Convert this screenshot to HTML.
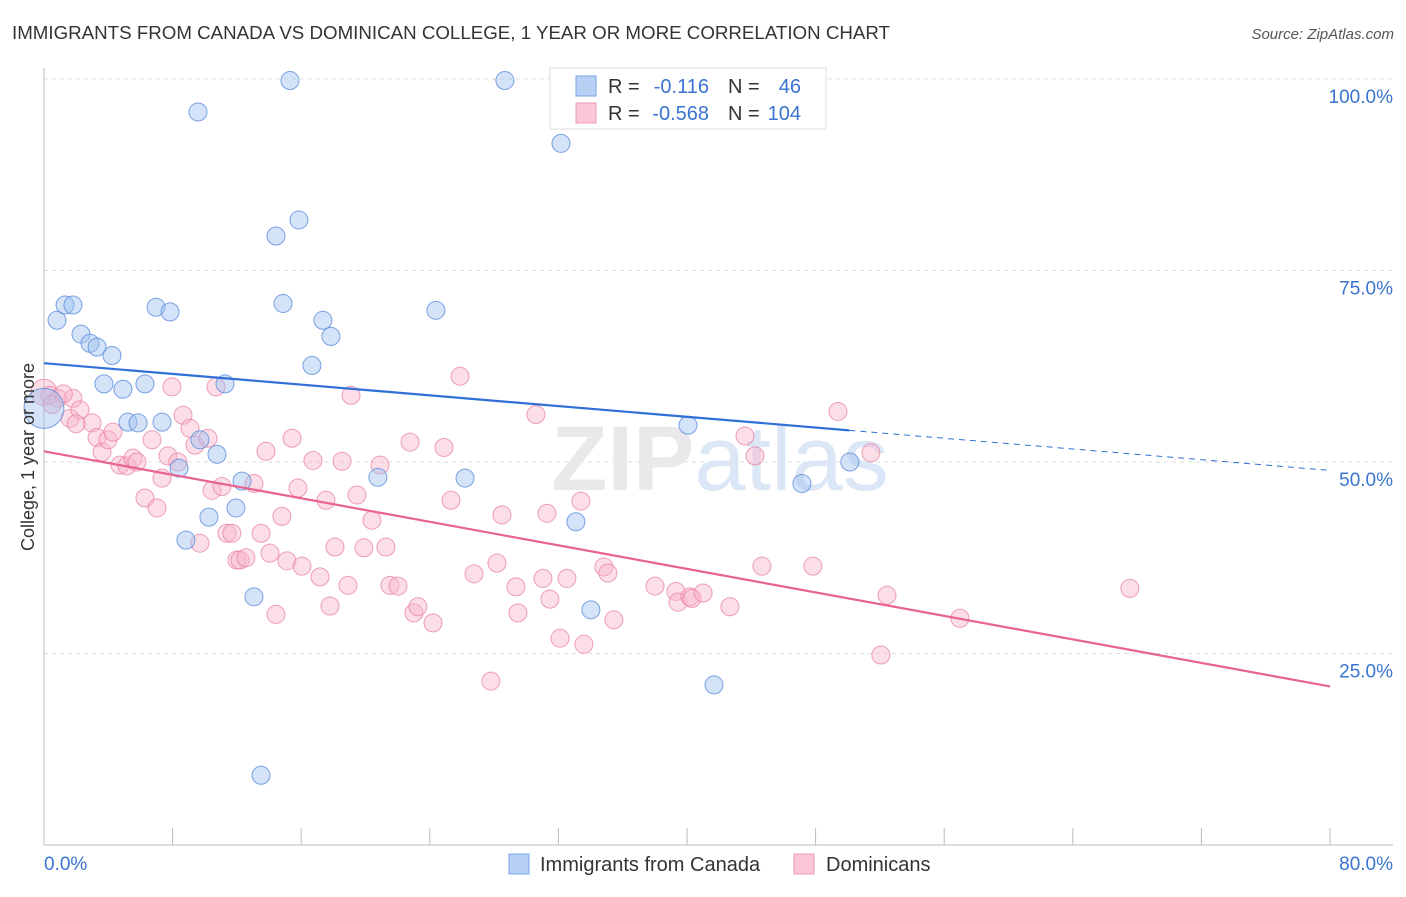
<!DOCTYPE html>
<html><head><meta charset="utf-8"><style>
body{margin:0;background:#fff;font-family:"Liberation Sans",sans-serif;}
svg text{font-family:"Liberation Sans",sans-serif;}
</style></head><body>
<svg id="chart" width="1406" height="892" viewBox="0 0 1406 892" xmlns="http://www.w3.org/2000/svg">
<text x="12" y="39" font-size="18" fill="#333" textLength="878" lengthAdjust="spacingAndGlyphs">IMMIGRANTS FROM CANADA VS DOMINICAN COLLEGE, 1 YEAR OR MORE CORRELATION CHART</text>
<text x="1394" y="39" font-size="15" fill="#555" text-anchor="end" font-style="italic">Source: ZipAtlas.com</text>
<g id="grid"></g>
<text x="720" y="490" font-size="92" text-anchor="middle" fill="#e9e9ec" font-family="Liberation Serif,serif" font-weight="bold">ZIP<tspan fill="#dbe6f6" font-family="Liberation Sans,sans-serif" font-weight="normal">atlas</tspan></text>
<g id="axes"></g>
<g id="pts"></g>
<g id="lines"></g>
<text transform="translate(34,457) rotate(-90)" font-size="18" fill="#333" text-anchor="middle">College, 1 year or more</text>
<g>
<rect x="550" y="68" width="276" height="61" fill="#fff" stroke="#ddd"/>
<rect x="576" y="76" width="20" height="20" fill="#b7d0f4" stroke="#7aa6e4"/>
<rect x="576" y="103" width="20" height="20" fill="#fbc7d6" stroke="#ee9ab5"/>
<text x="608" y="93" font-size="20" fill="#333">R = </text><text x="709" y="93" font-size="20" fill="#3a74d0" text-anchor="end">-0.116</text>
<text x="728" y="93" font-size="20" fill="#333">N = </text><text x="801" y="93" font-size="20" fill="#3a74d0" text-anchor="end">46</text>
<text x="608" y="120" font-size="20" fill="#333">R = </text><text x="709" y="120" font-size="20" fill="#3a74d0" text-anchor="end">-0.568</text>
<text x="728" y="120" font-size="20" fill="#333">N = </text><text x="801" y="120" font-size="20" fill="#3a74d0" text-anchor="end">104</text>
</g>
<g>
<rect x="509" y="854" width="20" height="20" fill="#b7d0f4" stroke="#7aa6e4"/>
<text x="540" y="871" font-size="20" fill="#333">Immigrants from Canada</text>
<rect x="794" y="854" width="20" height="20" fill="#fbc7d6" stroke="#ee9ab5"/>
<text x="826" y="871" font-size="20" fill="#333">Dominicans</text>
</g>
</svg>
<script>
const yTicks=[25,50,75,100];
const yTickLabels=["25.0%","50.0%","75.0%","100.0%"];
const xTickLabels=["0.0%","80.0%"];
const blueX=[0,0.81,1.31,1.80,2.30,2.86,3.30,4.23,3.73,4.91,6.28,5.22,5.85,7.34,6.97,7.84,9.58,15.30,28.67,32.16,14.43,15.86,14.87,17.35,17.85,16.67,24.38,11.26,9.70,10.76,8.40,12.32,20.77,26.19,10.26,11.94,8.83,33.09,13.06,34.02,41.68,13.50,40.06,50.13,47.15,33.6];
const blueY=[57.0,68.5,70.5,70.5,66.7,65.5,65.0,63.9,60.2,59.5,60.2,55.2,55.1,55.2,70.2,69.6,95.7,99.8,99.8,91.6,79.5,81.6,70.7,68.5,66.4,62.6,69.8,60.2,52.9,51.0,49.2,47.5,48.0,47.9,42.8,44.0,39.8,42.2,32.4,30.7,20.9,9.1,54.8,50.0,47.2,100];
const pinkX=[0,0.37,0.87,1.80,1.62,2.24,2.99,3.30,3.61,3.98,4.29,4.73,5.16,5.54,5.78,6.28,6.72,7.03,7.34,7.71,7.96,8.65,8.33,9.08,9.39,9.70,10.20,10.45,10.70,11.07,11.38,11.69,12.00,12.19,12.56,13.06,13.50,13.81,14.06,14.43,14.80,15.11,15.43,15.80,16.05,16.73,17.17,17.54,17.79,18.10,18.54,18.91,19.10,19.47,19.90,20.40,20.90,21.27,21.52,22.02,22.77,23.01,23.26,24.20,24.88,25.32,25.88,26.75,27.80,28.18,28.49,29.36,29.48,30.60,31.04,31.29,31.47,32.10,32.53,33.40,33.59,34.83,35.08,35.45,38.01,39.31,39.44,40.18,40.31,41.00,42.67,43.61,44.23,44.66,47.83,49.39,51.44,52.06,52.44,56.98,67.55,0.5,1.2,2.0];
const pinkY=[59.1,58.7,58.3,58.3,55.7,56.8,55.1,53.2,51.3,52.9,53.9,49.6,49.5,50.5,50.0,45.3,52.9,44.0,47.9,50.8,59.8,56.1,50.0,54.4,52.2,39.4,53.1,46.3,59.8,46.8,40.7,40.7,37.2,37.2,37.5,47.2,40.7,51.4,38.1,30.1,42.9,37.1,53.1,46.6,36.4,50.2,35.0,45.0,31.2,38.9,50.1,33.9,58.7,45.7,38.8,42.4,49.6,38.9,33.9,33.8,52.6,30.3,31.1,29.0,51.9,45.0,61.2,35.4,21.4,36.8,43.1,33.7,30.3,56.2,34.8,43.3,32.1,27.0,34.8,44.9,26.2,36.3,35.5,29.4,33.8,33.1,31.7,32.4,32.2,32.9,31.1,53.4,50.8,36.4,36.4,56.6,51.2,24.8,32.6,29.6,33.5,57.5,58.9,55.0];
const blueTrend=[62.9,48.9];
const blueSolidEnd=50.1;
const pinkTrend=[51.4,20.7];
const NS="http://www.w3.org/2000/svg";
function sx(v){return 44+v/80*1286;}
function sy(v){return 845-v/100*766;}
function mk(tag,attrs,parent){const e=document.createElementNS(NS,tag);for(const k in attrs)e.setAttribute(k,attrs[k]);parent.appendChild(e);return e;}
const grid=document.getElementById('grid'),axes=document.getElementById('axes'),pts=document.getElementById('pts'),lines=document.getElementById('lines');
yTicks.forEach((t,i)=>{
 const l=mk('line',{x1:44,x2:1393,y1:sy(t),y2:sy(t),stroke:'#ddd','stroke-dasharray':'4,4'},grid);
 
 
 const tx=mk('text',{x:1393,y:sy(t)+24,'font-size':19,fill:'#3a74d0','text-anchor':'end'},axes);
 tx.textContent=yTickLabels[i];
 
 
});
const ax=mk('line',{x1:44,x2:44,y1:68,y2:845,stroke:'#bbb'},axes);


const bx=mk('line',{x1:44,x2:1393,y1:845,y2:845,stroke:'#bbb'},axes);


for(let i=0;i<=10;i++){
 const t=mk('line',{x1:sx(i*8),x2:sx(i*8),y1:828,y2:845,stroke:'#bbb'},axes);
 
 
}
[[0,'start',44],[80,'end',1393]].forEach((d,i)=>{
 const tx=mk('text',{x:d[2],y:870,'font-size':19,fill:'#3a74d0','text-anchor':d[1]},axes);
 tx.textContent=xTickLabels[i];
 
 
});
pinkX.forEach((x,i)=>{
 const c=mk('circle',{cx:sx(x),cy:sy(pinkY[i]),r:(x===0?13:9),fill:'rgba(248,182,202,0.45)',stroke:'rgba(232,128,162,0.75)','stroke-width':1},pts);
 
 
});
blueX.forEach((x,i)=>{
 const c=mk('circle',{cx:sx(x),cy:sy(blueY[i]),r:(x===0?20:9),fill:'rgba(160,192,240,0.45)',stroke:'rgba(90,140,220,0.8)','stroke-width':1},pts);
 
 
});
function lineAt(tr,x){return tr[0]+(tr[1]-tr[0])*x/80;}
const b1=mk('line',{x1:sx(0),y1:sy(blueTrend[0]),x2:sx(blueSolidEnd),y2:sy(lineAt(blueTrend,blueSolidEnd)),stroke:'#2f6fd6','stroke-width':2.2},lines);


const b2=mk('line',{x1:sx(blueSolidEnd),y1:sy(lineAt(blueTrend,blueSolidEnd)),x2:sx(80),y2:sy(blueTrend[1]),stroke:'#2f6fd6','stroke-width':1,'stroke-dasharray':'6,5'},lines);


const p1=mk('line',{x1:sx(0),y1:sy(pinkTrend[0]),x2:sx(80),y2:sy(pinkTrend[1]),stroke:'#e8638f','stroke-width':2.2},lines);


</script>
</body></html>
